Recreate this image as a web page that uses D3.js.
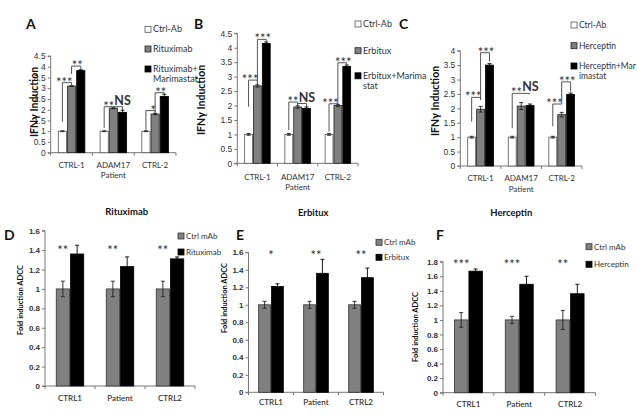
<!DOCTYPE html>
<html><head><meta charset="utf-8">
<script src="https://cdn.jsdelivr.net/npm/d3@7"></script>
<style>
html,body{margin:0;padding:0;background:#fff;}
svg{display:block;font-family:Lato,"Open Sans",sans-serif;}
</style></head>
<body><svg id="c" width="638" height="416"></svg>
<script>
// ---------- DATA ----------
const topCats = ["CTRL-1", "ADAM17", "CTRL-2"];
const topXTitle = "Patient";
const topYTitle = "IFNγ Induction";

// Panel A
const seriesA = ["Ctrl-Ab", "Rituximab", "Rituximab+\nMarimastat"];
const ctrlA = [1, 1, 1];
const ctrlAErr = [0.02, 0.02, 0.02];
const rituxA = [3.1, 2.07, 1.8];
const rituxAErr = [0.02, 0.03, 0.03];
const rituxMarA = [3.82, 1.88, 2.62];
const rituxMarAErr = [0.04, 0.1, 0.1];
const ticksA = [0, 0.5, 1, 1.5, 2, 2.5, 3, 3.5, 4, 4.5];
// brackets: [group, fromBar, toBar, leftBottom, top, rightBottom, label]
const bracketsA = [
  [0, 0, 1, 1.44, 3.26, 3.12, "***"],
  [0, 1, 2, 3.66, 4.03, 3.87, "**"],
  [1, 0, 1, 1.15, 2.14, 2.1, "**"],
  [1, 1, 2, 2.1, 2.14, 2.0, "NS"],
  [2, 0, 1, 1.06, 1.96, 1.84, "*"],
  [2, 1, 2, 1.86, 2.79, 2.72, "**"]
];

// Panel B
const seriesB = ["Ctrl-Ab", "Erbitux", "Erbitux+Marima\nstat"];
const ctrlB = [1, 1, 1];
const ctrlBErr = [0.03, 0.03, 0.03];
const erbB = [2.68, 1.95, 2.0];
const erbBErr = [0.04, 0.04, 0.04];
const erbMarB = [4.15, 1.9, 3.35];
const erbMarBErr = [0.05, 0.05, 0.05];
const ticksB = [0, 0.5, 1, 1.5, 2, 2.5, 3, 3.5, 4, 4.5];
const bracketsB = [
  [0, 0, 1, 1.96, 2.88, 2.73, "***"],
  [0, 1, 2, 2.75, 4.29, 4.21, "***"],
  [1, 0, 1, 1.15, 2.12, 2.0, "**"],
  [1, 1, 2, 2.0, 2.07, 1.96, "NS"],
  [2, 0, 1, 1.1, 2.06, 2.05, "***"],
  [2, 1, 2, 2.06, 3.48, 3.41, "***"]
];

// Panel C
const seriesC = ["Ctrl-Ab", "Herceptin", "Herceptin+Mar\nimastat"];
const ctrlC = [1, 1, 1];
const ctrlCErr = [0.03, 0.03, 0.03];
const hercC = [1.97, 2.08, 1.78];
const hercCErr = [0.1, 0.12, 0.08];
const hercMarC = [3.5, 2.1, 2.48];
const hercMarCErr = [0.05, 0.05, 0.05];
const ticksC = [0, 0.5, 1, 1.5, 2, 2.5, 3, 3.5, 4];
const bracketsC = [
  [0, 0, 1, 1.54, 2.38, 2.3, "***"],
  [0, 1, 2, 2.3, 3.93, 3.62, "***"],
  [1, 0, 1, 1.31, 2.52, 2.52, "**"],
  [1, 1, 2, 2.52, 2.52, 2.52, "NS"],
  [2, 0, 1, 1.38, 2.15, 2.15, "***"],
  [2, 1, 2, 2.15, 2.92, 2.58, "***"]
];

const botCats = ["CTRL1", "Patient", "CTRL2"];
const botYTitle = "Fold induction ADCC";
// Panel D
const titleD = "Rituximab";
const seriesD = ["Ctrl mAb", "Rituximab"];
const ctrlD = [1, 1, 1];
const ctrlDErr = [0.08, 0.08, 0.08];
const rituxD = [1.36, 1.23, 1.31];
const rituxDErr = [0.09, 0.1, 0.02];
const starsD = ["**", "**", "**"];
const ticksD = [0, 0.2, 0.4, 0.6, 0.8, 1, 1.2, 1.4, 1.6];
// Panel E
const titleE = "Erbitux";
const seriesE = ["Ctrl mAb", "Erbitux"];
const ctrlE = [1, 1, 1];
const ctrlEErr = [0.04, 0.04, 0.04];
const erbE = [1.21, 1.36, 1.31];
const erbEErr = [0.03, 0.16, 0.11];
const starsE = ["*", "**", "**"];
const ticksE = [0, 0.2, 0.4, 0.6, 0.8, 1, 1.2, 1.4, 1.6];
// Panel F
const titleF = "Herceptin";
const seriesF = ["Ctrl mAb", "Herceptin"];
const ctrlF = [1, 1, 1];
const ctrlFErr = [0.1, 0.05, 0.13];
const hercF = [1.67, 1.49, 1.36];
const hercFErr = [0.03, 0.11, 0.13];
const starsF = ["***", "***", "**"];
const ticksF = [0, 0.2, 0.4, 0.6, 0.8, 1, 1.2, 1.4, 1.6, 1.8];

// ---------- DRAW ----------
const svg = d3.select("#c");
const fills3 = ["#ffffff", "#808080", "#000000"];
const strokes3 = ["#555", "#222", "#000"];
const fills2 = ["#808080", "#000000"];
const axisCol = "#777";
const txtCol = "#333";

function fmt(v){ return String(+v.toFixed(1)); }

function drawPanel(cfg){
  const g = svg.append("g");
  const y = d3.scaleLinear().domain([0, cfg.max]).range([cfg.yBottom, cfg.yTop]);
  const x = d3.scaleBand().domain(cfg.cats).range([cfg.x0, cfg.x1]).paddingInner(cfg.pad).paddingOuter(cfg.pad/2);
  const xs = d3.scaleBand().domain(d3.range(cfg.series.length)).range([0, x.bandwidth()]);

  // y axis
  const ya = d3.axisLeft(y).tickValues(cfg.ticks).tickSize(3).tickFormat(fmt);
  const yg = g.append("g").attr("transform", `translate(${cfg.x0},0)`).call(ya);
  yg.select(".domain").attr("stroke", axisCol).attr("d", `M-3,${cfg.yBottom}H0V${cfg.yTop}H-3`);
  yg.selectAll(".tick line").attr("stroke", axisCol);
  yg.selectAll(".tick text").attr("fill", txtCol).attr("font-size", cfg.tickFont).attr("font-weight", cfg.tickWeight).attr("x", -5);

  // x axis line with boundary ticks
  g.append("line").attr("x1", cfg.x0).attr("x2", cfg.x1).attr("y1", cfg.yBottom).attr("y2", cfg.yBottom).attr("stroke", axisCol);
  const bounds = [cfg.x0].concat(cfg.cats.map(c => x(c) + x.bandwidth() + x.step()*cfg.pad/2));
  g.selectAll(".xt").data(bounds).join("line").attr("x1", d=>d).attr("x2", d=>d)
    .attr("y1", cfg.yBottom).attr("y2", cfg.yBottom+3).attr("stroke", axisCol);
  g.selectAll(".xl").data(cfg.cats).join("text")
    .attr("x", d => x(d) + x.bandwidth()/2).attr("y", cfg.catY).attr("dy", "0.35em")
    .attr("text-anchor", "middle").attr("font-size", cfg.catFont).attr("font-weight", cfg.catWeight).attr("fill", txtCol).text(d=>d);

  // bars
  cfg.series.forEach((s, si) => {
    const vals = cfg.values[si], errs = cfg.errs[si];
    const bw = xs.bandwidth();
    g.selectAll(".b"+si).data(cfg.cats).join("rect")
      .attr("x", (c) => x(c) + xs(si) + 0.5)
      .attr("y", (c,i) => y(vals[i]))
      .attr("width", bw - 1)
      .attr("height", (c,i) => y(0) - y(vals[i]))
      .attr("fill", cfg.fills[si]).attr("stroke", cfg.strokes[si]).attr("stroke-width", 0.8);
    cfg.cats.forEach((c, i) => {
      const cx = x(c) + xs(si) + bw/2;
      const y1 = y(vals[i] - errs[i]), y2 = y(vals[i] + errs[i]);
      g.append("path").attr("d", `M${cx},${y1}V${y2}M${cx-2},${y2}H${cx+2}M${cx-2},${y1}H${cx+2}`)
        .attr("stroke", si === cfg.series.length-1 ? "#000" : "#222").attr("stroke-width", 0.9).attr("fill", "none");
    });
  });

  // legend
  cfg.series.forEach((s, si) => {
    const ly = cfg.legY[si];
    g.append("rect").attr("x", cfg.legX).attr("y", ly-3).attr("width", 6).attr("height", 6)
      .attr("fill", cfg.fills[si]).attr("stroke", cfg.strokes[si]).attr("stroke-width", 0.8);
    s.split("\n").forEach((line, li) => {
      g.append("text").attr("x", cfg.legX + 8).attr("y", ly + li*cfg.legLine).attr("dy", "0.35em")
        .attr("font-size", cfg.legFont).attr("fill", txtCol).text(line);
    });
  });

  // y title
  g.append("text").attr("transform", `translate(${cfg.ylabX},${cfg.ylabY}) rotate(-90)`)
    .attr("text-anchor", "middle").attr("dy", "0.35em").attr("font-size", cfg.ylabFont).attr("font-weight", "bold")
    .attr("fill", "#111").text(cfg.yTitle);

  // panel letter
  g.append("text").attr("x", cfg.letterX).attr("y", cfg.letterY).attr("font-size", 14).attr("font-weight", "bold")
    .attr("fill", "#111").text(cfg.letter);

  if (cfg.xTitle) {
    g.append("text").attr("x", x(cfg.cats[1]) + x.bandwidth()/2).attr("y", cfg.xTitleY).attr("dy", "0.35em")
      .attr("text-anchor", "middle").attr("font-size", cfg.catFont).attr("fill", txtCol).text(cfg.xTitle);
  }
  if (cfg.title) {
    g.append("text").attr("x", cfg.titleX).attr("y", cfg.titleY).attr("dy", "0.35em")
      .attr("text-anchor", "middle").attr("font-size", 9.5).attr("font-weight", "bold").attr("fill", "#111").text(cfg.title);
  }

  // brackets
  if (cfg.brackets) {
    cfg.brackets.forEach(b => {
      const [gi, f, t, lb, top, rb, lab] = b;
      const c = cfg.cats[gi];
      const xl = x(c) + xs(f) + xs.bandwidth()/2;
      const xr = x(c) + xs(t) + xs.bandwidth()/2;
      g.append("path").attr("d", `M${xl},${y(lb)}V${y(top)}H${xr}V${y(rb)}`)
        .attr("fill", "none").attr("stroke", "#555").attr("stroke-width", 1);
      const ns = lab === "NS";
      let tx, anchor;
      if (ns) { tx = xl + 1; anchor = "start"; }
      else if (f === 0) { tx = xr + 1; anchor = "end"; }
      else { tx = (xl + xr)/2 + 1; anchor = "middle"; }
      g.append("text").attr("x", tx).attr("y", y(top) - (ns ? 2 : -4))
        .attr("text-anchor", anchor).attr("font-size", ns ? 12.5 : 13).attr("font-weight", ns ? "bold" : "normal")
        .attr("fill", "#333").text(lab);
    });
  }
  // stars
  if (cfg.stars) {
    cfg.stars.forEach((s, i) => {
      const c = cfg.cats[i];
      const sx = x(c) + (cfg.starAtGroup ? x.bandwidth()/2 : xs(0) + xs.bandwidth()/2);
      g.append("text").attr("x", sx).attr("y", y(cfg.starV) + 7).attr("text-anchor", "middle")
        .attr("font-size", 13).attr("fill", "#333").text(s);
    });
  }
}

const topCommon = {cats: topCats, pad: 0.34, tickFont: 8.5, tickWeight: "normal", catFont: 8, catWeight: "normal",
  fills: fills3, strokes: strokes3, legFont: 9, ylabFont: 10.5, yTitle: topYTitle, xTitle: topXTitle};

drawPanel(Object.assign({}, topCommon, {
  letter: "A", letterX: 26, letterY: 29, x0: 50.7, x1: 176, yBottom: 152.7, yTop: 56, max: 4.5, ticks: ticksA,
  series: seriesA, values: [ctrlA, rituxA, rituxMarA], errs: [ctrlAErr, rituxAErr, rituxMarAErr],
  catY: 165, xTitleY: 175, ylabX: 34, ylabY: 102, legX: 145, legY: [29.3, 49, 69], legLine: 9.5,
  brackets: bracketsA
}));
drawPanel(Object.assign({}, topCommon, {
  letter: "B", letterX: 194, letterY: 29, x0: 237.3, x1: 358, yBottom: 163.3, yTop: 33.3, max: 4.5, ticks: ticksB,
  series: seriesB, values: [ctrlB, erbB, erbMarB], errs: [ctrlBErr, erbBErr, erbMarBErr],
  catY: 176.7, xTitleY: 187, ylabX: 201, ylabY: 100, legX: 355, legY: [24, 50.7, 75.8], legLine: 10,
  brackets: bracketsB
}));
drawPanel(Object.assign({}, topCommon, {
  letter: "C", letterX: 399, letterY: 29, x0: 460.3, x1: 582, yBottom: 166, yTop: 50.7, max: 4, ticks: ticksC,
  series: seriesC, values: [ctrlC, hercC, hercMarC], errs: [ctrlCErr, hercCErr, hercMarCErr],
  catY: 177.7, xTitleY: 189, ylabX: 435, ylabY: 101, legX: 571, legY: [25, 45.7, 66], legLine: 10, legFont: 8.5,
  brackets: bracketsC
}));

const botCommon = {cats: botCats, pad: 0.43, tickFont: 8, tickWeight: "600", catFont: 8, catWeight: "600",
  fills: fills2, strokes: ["#333", "#000"], legFont: 8, ylabFont: 7.5, yTitle: botYTitle};

drawPanel(Object.assign({}, botCommon, {
  letter: "D", letterX: 4, letterY: 240, x0: 45, x1: 195, yBottom: 386, yTop: 230.7, max: 1.6, ticks: ticksD,
  series: seriesD, values: [ctrlD, rituxD], errs: [ctrlDErr, rituxDErr],
  catY: 398, ylabX: 20, ylabY: 300, legX: 178, legY: [236, 252], legLine: 9,
  title: titleD, titleX: 126.7, titleY: 211.7, stars: starsD, starV: 1.42
}));
drawPanel(Object.assign({}, botCommon, {
  letter: "E", letterX: 236, letterY: 240, x0: 248.5, x1: 383.5, yBottom: 392.3, yTop: 252.3, max: 1.6, ticks: ticksE,
  series: seriesE, values: [ctrlE, erbE], errs: [ctrlEErr, erbEErr],
  catY: 402.3, ylabX: 224, ylabY: 298, legX: 376, legY: [242.3, 257.3], legLine: 9,
  title: titleE, titleX: 313.3, titleY: 212.7, stars: starsE, starV: 1.59, starAtGroup: true
}));
drawPanel(Object.assign({}, botCommon, {
  letter: "F", letterX: 436, letterY: 240, x0: 443, x1: 595.5, yBottom: 392.7, yTop: 261.7, max: 1.8, ticks: ticksF,
  series: seriesF, values: [ctrlF, hercF], errs: [ctrlFErr, hercFErr],
  catY: 404, ylabX: 415, ylabY: 327, legX: 586, legY: [246.7, 264.3], legLine: 9,
  title: titleF, titleX: 511.3, titleY: 212.7, stars: starsF, starV: 1.79
}));
</script></body></html>
